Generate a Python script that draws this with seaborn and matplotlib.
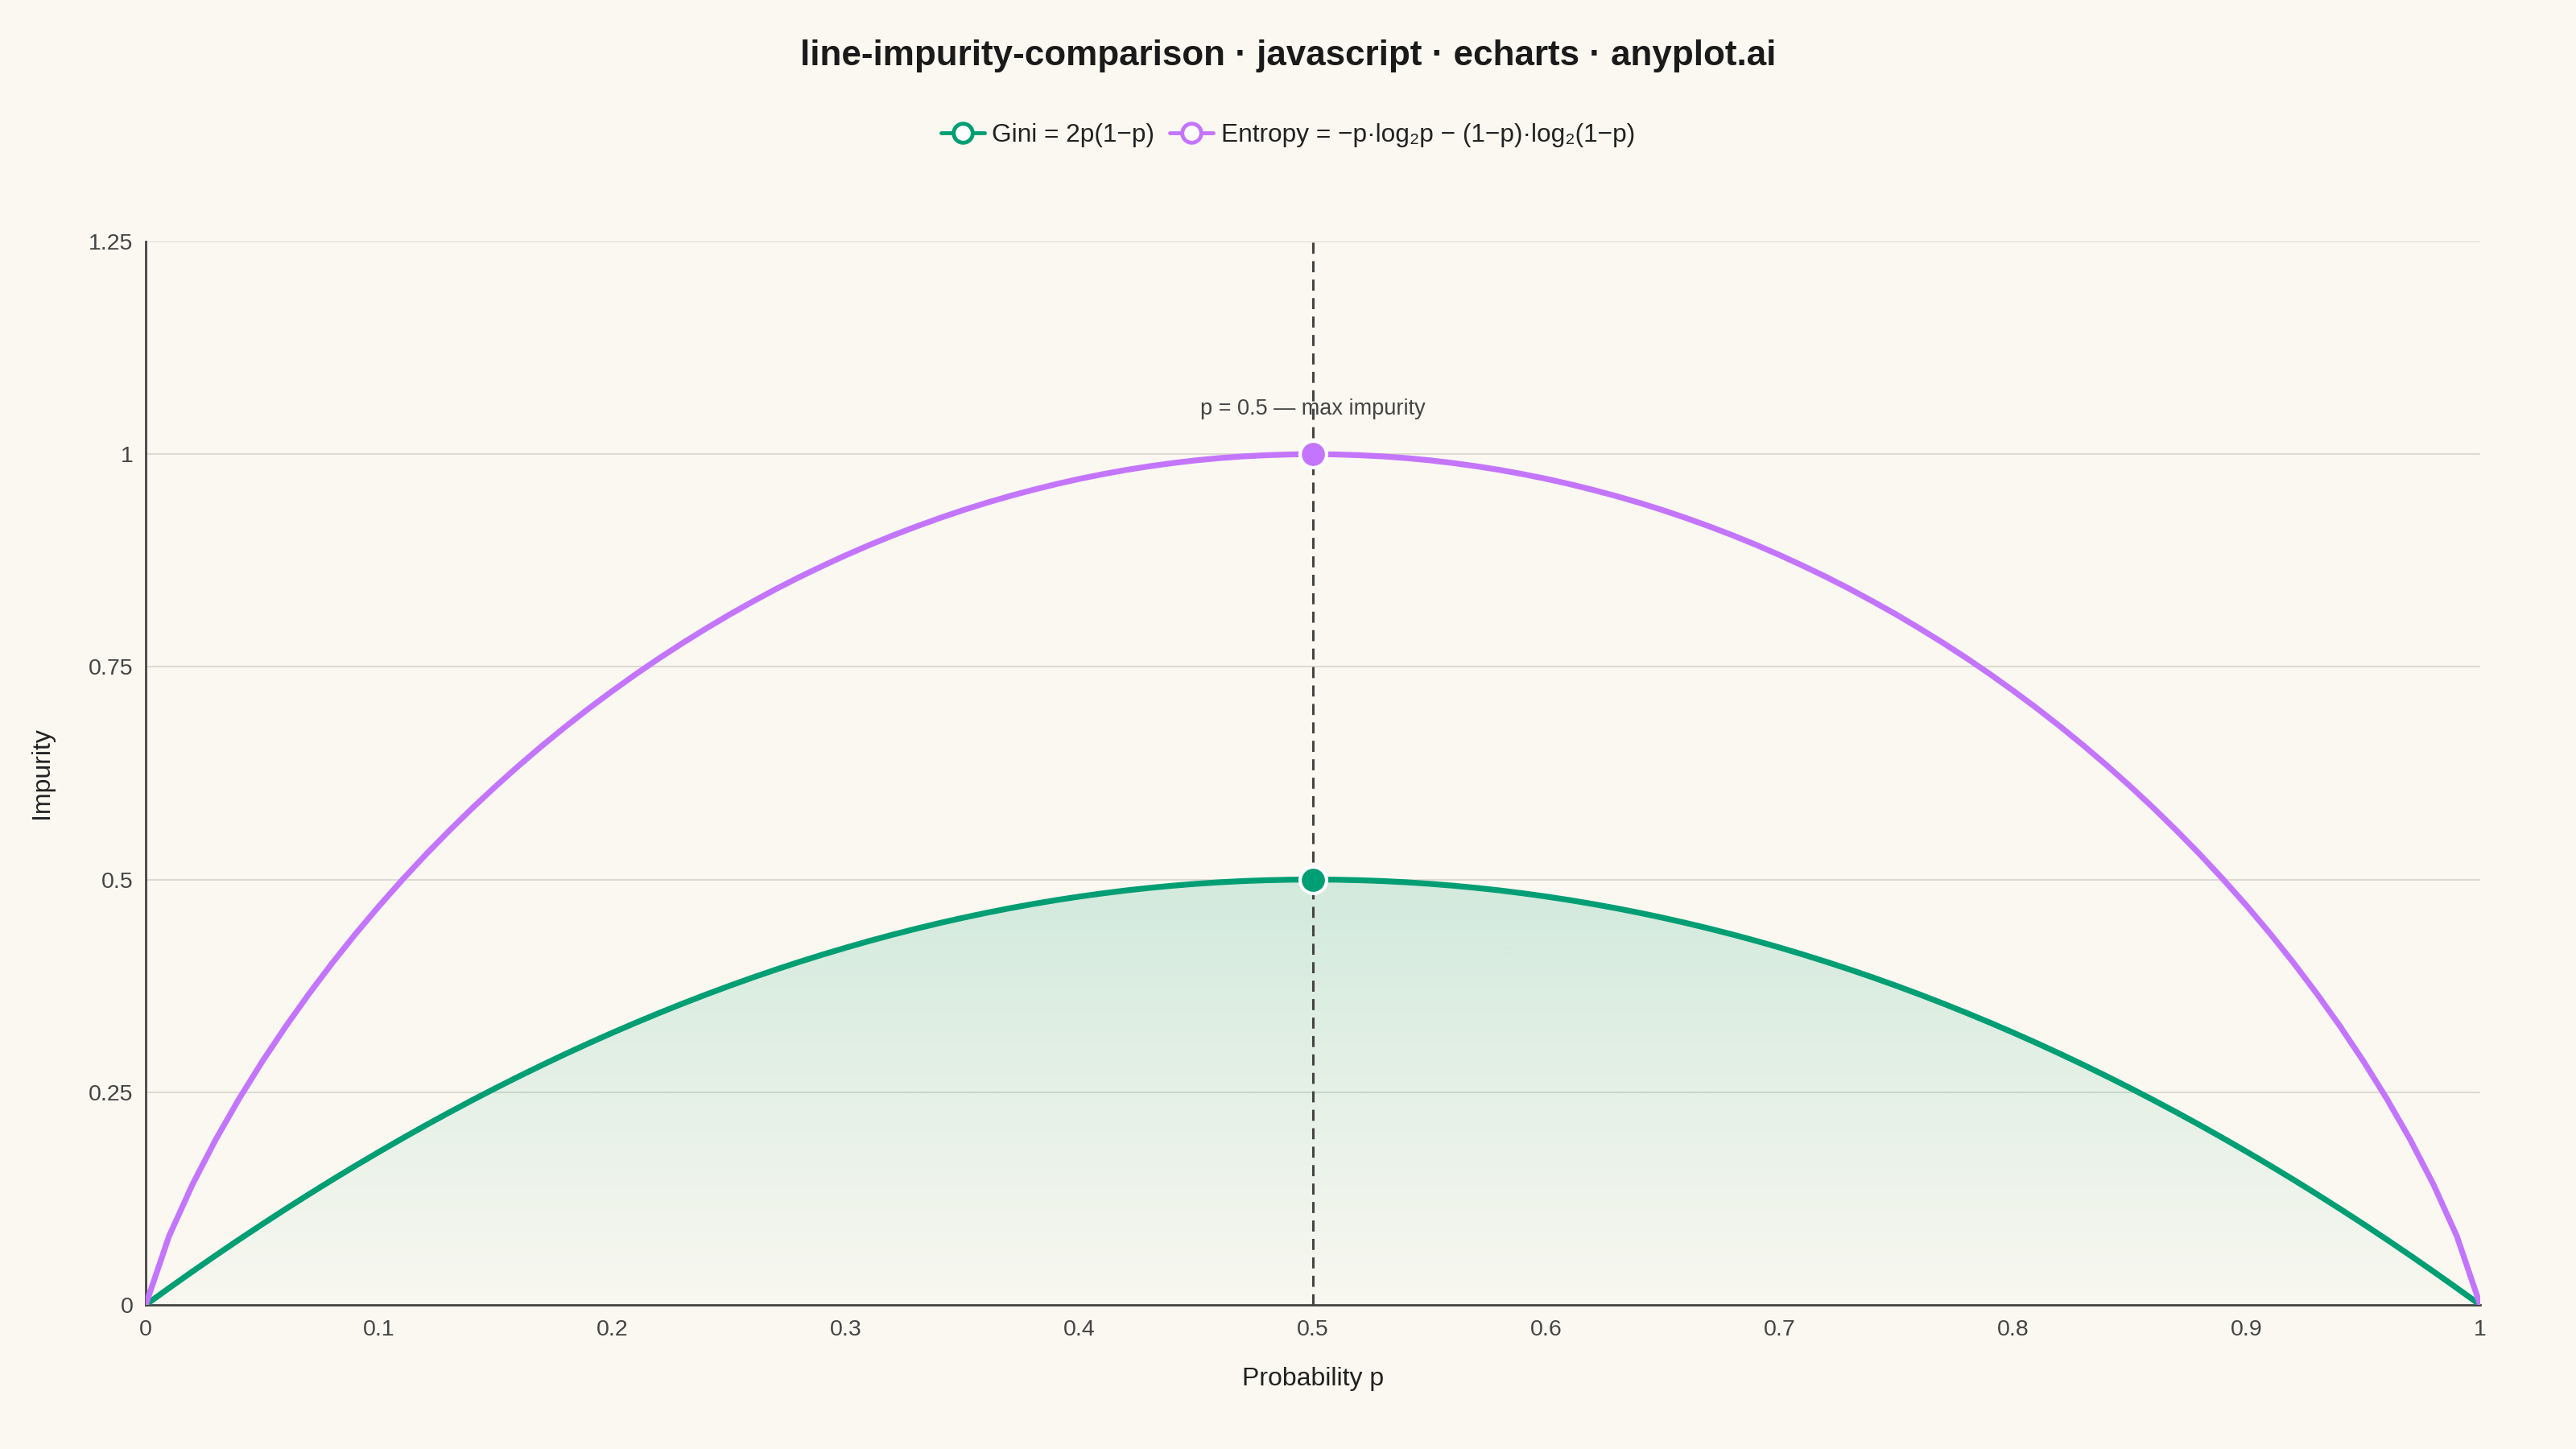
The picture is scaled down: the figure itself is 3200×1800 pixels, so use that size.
import numpy as np
import pandas as pd
import matplotlib
matplotlib.use("Agg")
import matplotlib.pyplot as plt
import seaborn as sns
from matplotlib.patches import PathPatch
from matplotlib.lines import Line2D

# ---------------- data ----------------
p_values = [
    0.00, 0.01, 0.02, 0.03, 0.04, 0.05, 0.06, 0.07, 0.08, 0.09,
    0.10, 0.11, 0.12, 0.13, 0.14, 0.15, 0.16, 0.17, 0.18, 0.19,
    0.20, 0.21, 0.22, 0.23, 0.24, 0.25, 0.26, 0.27, 0.28, 0.29,
    0.30, 0.31, 0.32, 0.33, 0.34, 0.35, 0.36, 0.37, 0.38, 0.39,
    0.40, 0.41, 0.42, 0.43, 0.44, 0.45, 0.46, 0.47, 0.48, 0.49,
    0.50, 0.51, 0.52, 0.53, 0.54, 0.55, 0.56, 0.57, 0.58, 0.59,
    0.60, 0.61, 0.62, 0.63, 0.64, 0.65, 0.66, 0.67, 0.68, 0.69,
    0.70, 0.71, 0.72, 0.73, 0.74, 0.75, 0.76, 0.77, 0.78, 0.79,
    0.80, 0.81, 0.82, 0.83, 0.84, 0.85, 0.86, 0.87, 0.88, 0.89,
    0.90, 0.91, 0.92, 0.93, 0.94, 0.95, 0.96, 0.97, 0.98, 0.99,
    1.00,
]
gini_values = [
    0.0000, 0.0198, 0.0392, 0.0582, 0.0768, 0.0950, 0.1128, 0.1302, 0.1472, 0.1638,
    0.1800, 0.1958, 0.2112, 0.2262, 0.2408, 0.2550, 0.2688, 0.2822, 0.2952, 0.3078,
    0.3200, 0.3318, 0.3432, 0.3542, 0.3648, 0.3750, 0.3848, 0.3942, 0.4032, 0.4118,
    0.4200, 0.4278, 0.4352, 0.4422, 0.4488, 0.4550, 0.4608, 0.4662, 0.4712, 0.4758,
    0.4800, 0.4838, 0.4872, 0.4902, 0.4928, 0.4950, 0.4968, 0.4982, 0.4992, 0.4998,
    0.5000, 0.4998, 0.4992, 0.4982, 0.4968, 0.4950, 0.4928, 0.4902, 0.4872, 0.4838,
    0.4800, 0.4758, 0.4712, 0.4662, 0.4608, 0.4550, 0.4488, 0.4422, 0.4352, 0.4278,
    0.4200, 0.4118, 0.4032, 0.3942, 0.3848, 0.3750, 0.3648, 0.3542, 0.3432, 0.3318,
    0.3200, 0.3078, 0.2952, 0.2822, 0.2688, 0.2550, 0.2408, 0.2262, 0.2112, 0.1958,
    0.1800, 0.1638, 0.1472, 0.1302, 0.1128, 0.0950, 0.0768, 0.0582, 0.0392, 0.0198,
    0.0000,
]
entropy_values = [
    0.0000, 0.0808, 0.1414, 0.1944, 0.2423, 0.2864, 0.3274, 0.3659, 0.4022, 0.4365,
    0.4690, 0.4999, 0.5294, 0.5574, 0.5842, 0.6098, 0.6343, 0.6577, 0.6801, 0.7015,
    0.7219, 0.7415, 0.7602, 0.7780, 0.7950, 0.8113, 0.8267, 0.8415, 0.8555, 0.8687,
    0.8813, 0.8932, 0.9044, 0.9149, 0.9248, 0.9341, 0.9427, 0.9507, 0.9580, 0.9648,
    0.9710, 0.9765, 0.9815, 0.9858, 0.9896, 0.9928, 0.9954, 0.9974, 0.9988, 0.9997,
    1.0000, 0.9997, 0.9988, 0.9974, 0.9954, 0.9928, 0.9896, 0.9858, 0.9815, 0.9765,
    0.9710, 0.9648, 0.9580, 0.9507, 0.9427, 0.9341, 0.9248, 0.9149, 0.9044, 0.8932,
    0.8813, 0.8687, 0.8555, 0.8415, 0.8267, 0.8113, 0.7950, 0.7780, 0.7602, 0.7415,
    0.7219, 0.7015, 0.6801, 0.6577, 0.6343, 0.6098, 0.5842, 0.5574, 0.5294, 0.4999,
    0.4690, 0.4365, 0.4022, 0.3659, 0.3274, 0.2864, 0.2423, 0.1944, 0.1414, 0.0808,
    0.0000,
]
series_names = ["Gini = 2p(1\u2212p)",
                "Entropy = \u2212p\u00b7log\u2082p \u2212 (1\u2212p)\u00b7log\u2082(1\u2212p)"]
max_p = [0.5]
max_gini = [0.5]
max_entropy = [1.0]
x_ticks = [0, 0.1, 0.2, 0.3, 0.4, 0.5, 0.6, 0.7, 0.8, 0.9, 1.0]
x_tick_labels = ["0", "0.1", "0.2", "0.3", "0.4", "0.5", "0.6", "0.7", "0.8", "0.9", "1"]
y_ticks = [0, 0.25, 0.5, 0.75, 1.0, 1.25]
y_tick_labels = ["0", "0.25", "0.5", "0.75", "1", "1.25"]
annotation_text = "p = 0.5 \u2014 max impurity"
title_text = "line-impurity-comparison \u00b7 javascript \u00b7 echarts \u00b7 anyplot.ai"

# ---------------- style ----------------
BG = "#FAF8F1"
GREEN = "#009E73"
PURPLE = "#C475FD"
INK = "#444444"
GRID = "#D9D7CE"

sns.set_theme(style="white")
plt.rcParams["font.family"] = ["Liberation Sans", "DejaVu Sans"]
plt.rcParams["axes.unicode_minus"] = True

df = pd.DataFrame({
    "p": p_values * 2,
    "value": gini_values + entropy_values,
    "series": [series_names[0]] * len(p_values) + [series_names[1]] * len(p_values),
})

fig = plt.figure(figsize=(32, 18), dpi=100, facecolor=BG)
ax = fig.add_axes([181 / 3200, 1 - 1621 / 1800, 2900 / 3200, 1321 / 1800])
ax.set_facecolor(BG)

ax.set_xlim(0, 1)
ax.set_ylim(0, 1.25)

# gradient fill under Gini
grad = np.linspace(0.01, 0.16, 256).reshape(-1, 1)
rgba = np.zeros((256, 1, 4))
rgba[..., 0] = 0 / 255
rgba[..., 1] = 158 / 255
rgba[..., 2] = 115 / 255
rgba[..., 3] = grad
im = ax.imshow(rgba, extent=[0, 1, 0, 0.5], origin="lower", aspect="auto", zorder=1,
               interpolation="bilinear")
poly = ax.fill_between(p_values, gini_values, 0, color="none", lw=0)
clip_path = poly.get_paths()[0]
patch = PathPatch(clip_path, transform=ax.transData, facecolor="none", edgecolor="none")
ax.add_patch(patch)
im.set_clip_path(patch)

# grid
for yt in y_ticks[1:]:
    ax.axhline(yt, color=GRID, lw=1.3, zorder=0.5)

sns.lineplot(data=df, x="p", y="value", hue="series",
             palette=[GREEN, PURPLE], linewidth=5.2, ax=ax, legend=False,
             zorder=3, sort=False, estimator=None)

# dashed max line
ax.axvline(max_p[0], ymin=0, ymax=1, color=INK, lw=2.2, ls=(0, (4.5, 3)), zorder=4)

# markers
ax.scatter(max_p, max_gini, s=560, color=GREEN, edgecolor="white", linewidth=3, zorder=5)
ax.scatter(max_p, max_entropy, s=560, color=PURPLE, edgecolor="white", linewidth=3, zorder=5)

ax.text(max_p[0], 1.053, annotation_text, ha="center", va="center",
        fontsize=19.5, color=INK, zorder=6)

# axes styling
for side in ["top", "right"]:
    ax.spines[side].set_visible(False)
for side in ["left", "bottom"]:
    ax.spines[side].set_color(INK)
    ax.spines[side].set_linewidth(2)
    ax.spines[side].set_zorder(2.5)

ax.set_xticks(x_ticks)
ax.set_xticklabels(x_tick_labels)
ax.set_yticks(y_ticks)
ax.set_yticklabels(y_tick_labels)
ax.tick_params(axis="both", direction="out", length=11, width=2, color=INK,
               labelcolor=INK, labelsize=20.5)
ax.tick_params(axis="x", pad=2)
ax.tick_params(axis="y", pad=0)

ax.set_xlabel("Probability p", fontsize=23, color="#222222", labelpad=24)
ax.set_ylabel("Impurity", fontsize=23, color="#222222", labelpad=31)

fig.text(0.5, 1 - 70 / 1800, title_text, ha="center", va="center",
         fontsize=31.7, fontweight="bold", color="#1a1a1a")

# legend
handles = [
    Line2D([0], [0], color=GREEN, lw=3.5, marker="o", markersize=17,
           markerfacecolor="white", markeredgecolor=GREEN, markeredgewidth=3.5),
    Line2D([0], [0], color=PURPLE, lw=3.5, marker="o", markersize=17,
           markerfacecolor="white", markeredgecolor=PURPLE, markeredgewidth=3.5),
]
leg = fig.legend(handles, series_names, loc="center", bbox_to_anchor=(0.5, 1 - 168 / 1800),
                 ncol=2, frameon=False, fontsize=22.8, handlelength=1.7,
                 handletextpad=0.3, columnspacing=0.6)
for t in leg.get_texts():
    t.set_color("#222222")

fig.savefig("out.png", dpi=100, facecolor=BG)
